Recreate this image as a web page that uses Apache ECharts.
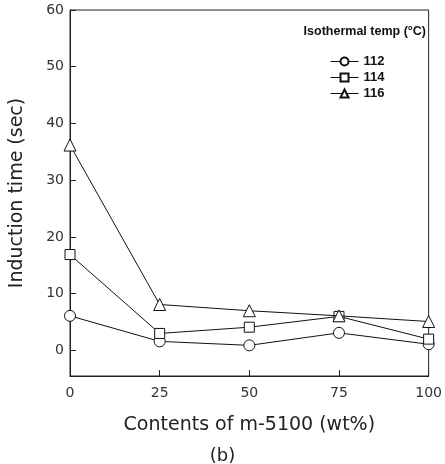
<!DOCTYPE html>
<html><head><meta charset="utf-8">
<script src="https://cdn.jsdelivr.net/npm/echarts@6/dist/echarts.min.js"></script>
<style>html,body{margin:0;padding:0;background:#fff}#c{width:445px;height:464px}</style>
</head><body><div id="c"></div>
<script>
const contents = [0, 25, 50, 75, 100];
const t112 = [6.1, 1.6, 0.9, 3.1, 1.1];
const t114 = [16.9, 3.0, 4.1, 6.0, 2.0];
const t116 = [36.2, 8.1, 7.0, 6.1, 5.1];
const seriesNames = ['112', '114', '116'];
const yTicks = [0, 10, 20, 30, 40, 50, 60];
const xTicks = [0, 25, 50, 75, 100];

const symbols = ['circle', 'rect', 'triangle'];
const sizes = [11, 10, 12];
const datasets = [t112, t114, t116];
const chart = echarts.init(document.getElementById('c'), null, {renderer: 'canvas'});
const font = 'Liberation Sans';
const font2 = 'DejaVu Sans';
chart.setOption({
  animation: false,
  backgroundColor: '#fff',
  textStyle: {fontFamily: font},
  grid: {left: 69, right: 9, top: 10, bottom: 88, show: true, borderColor: '#222', borderWidth: 1, backgroundColor: 'transparent'},
  title: [
    {text: 'Isothermal temp (\u00B0C)', right: 14, top: 20,
     textStyle: {fontFamily: font, fontSize: 12.5, fontWeight: 'bold', color: '#111'}},
    {text: '(b)', left: 'center', top: 442,
     textStyle: {fontFamily: font2, fontSize: 18, fontWeight: 'normal', color: '#222'}}
  ],
  legend: {
    orient: 'vertical', left: 325, top: 50, itemGap: 3, itemWidth: 28, itemHeight: 10,
    lineStyle: {width: 1},
    textStyle: {fontFamily: font, fontSize: 13, fontWeight: 'bold', color: '#111'},
    data: seriesNames
  },
  xAxis: {
    type: 'value', min: 0, max: 100, interval: 25,
    name: 'Contents of m-5100 (wt%)', nameLocation: 'middle', nameGap: 40,
    nameTextStyle: {fontFamily: font2, fontSize: 19, color: '#222'},
    axisLine: {show: true, onZero: false, lineStyle: {color: '#222'}},
    axisTick: {show: true, inside: true, length: 6, lineStyle: {color: '#222'}},
    axisLabel: {fontFamily: font2, fontSize: 14, color: '#333', margin: 10, customValues: xTicks},
    splitLine: {show: false}
  },
  yAxis: {
    type: 'value', min: -4.5, max: 60,
    name: 'Induction time (sec)', nameLocation: 'middle', nameGap: 43,
    nameTextStyle: {fontFamily: font2, fontSize: 19, color: '#222'},
    axisLine: {show: true, onZero: false, lineStyle: {color: '#222'}},
    axisTick: {show: true, inside: true, length: 6, lineStyle: {color: '#222'}, customValues: yTicks},
    axisLabel: {fontFamily: font2, fontSize: 14, color: '#333', margin: 6, customValues: yTicks},
    splitLine: {show: false}
  },
  series: datasets.map((d, i) => ({
    name: seriesNames[i], type: 'line',
    data: contents.map((x, j) => [x, d[j]]),
    symbol: symbols[i], symbolSize: sizes[i],
    lineStyle: {color: '#111', width: 1},
    itemStyle: {color: '#fff', borderColor: '#111', borderWidth: 1},
    z: 3 + i
  }))
});
</script></body></html>
